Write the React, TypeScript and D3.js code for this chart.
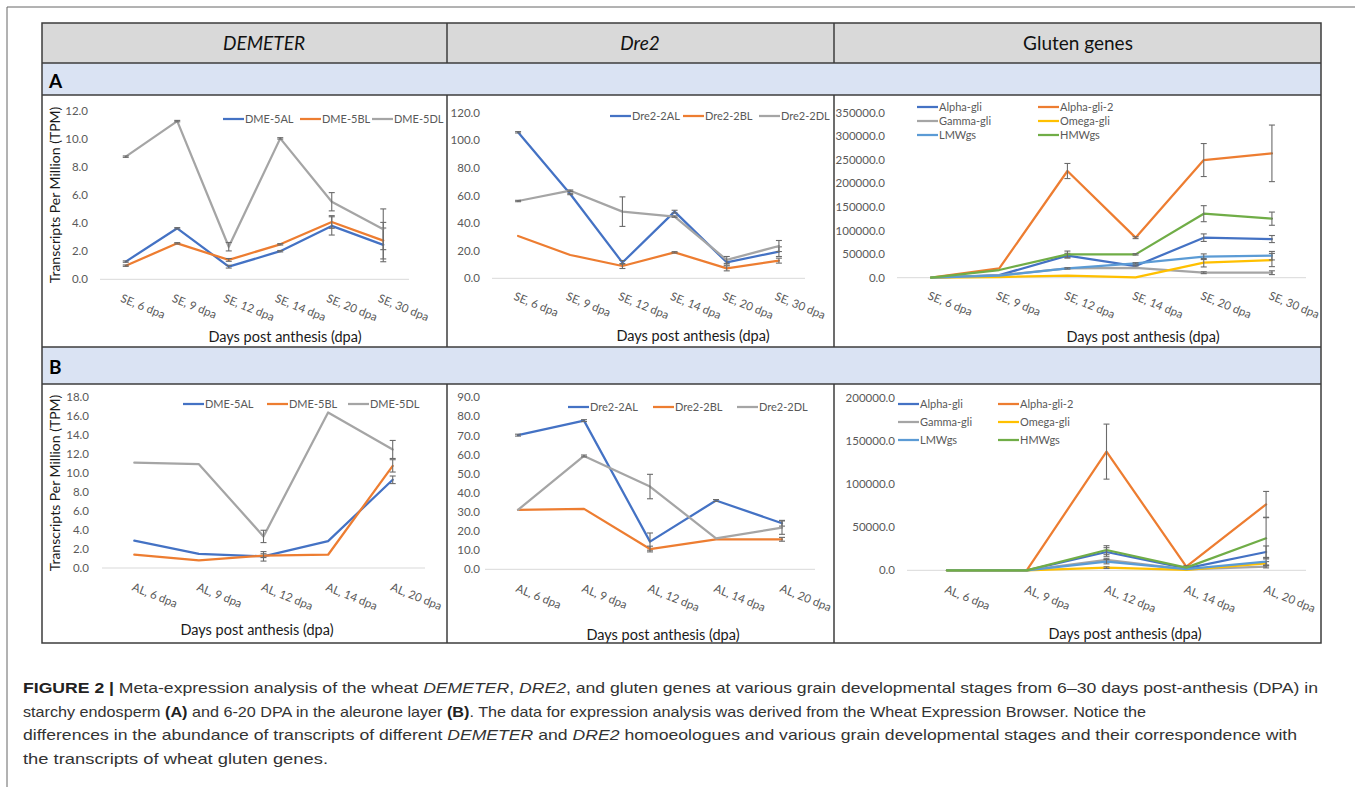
import React from "react";
import * as d3 from "d3";

// ---------- categories ----------
const catsSE = ["SE, 6 dpa", "SE, 9 dpa", "SE, 12 dpa", "SE, 14 dpa", "SE, 20 dpa", "SE, 30 dpa"];
const catsAL = ["AL, 6 dpa", "AL, 9 dpa", "AL, 12 dpa", "AL, 14 dpa", "AL, 20 dpa"];

// ---------- (A) starchy endosperm: DEMETER ----------
const dmeA_5AL = [1.26, 3.63, 0.9, 2.0, 3.8, 2.45];
const dmeA_5BL = [0.97, 2.56, 1.38, 2.49, 4.08, 2.75];
const dmeA_5DL = [8.73, 11.26, 2.32, 10.03, 5.52, 3.56];
const dmeA_5AL_err = [0.05, 0.05, 0.1, 0.05, 0.65, 1.2];
const dmeA_5BL_err = [0.05, 0.05, 0.1, 0.05, 0.45, 1.3];
const dmeA_5DL_err = [0.05, 0.05, 0.3, 0.05, 0.65, 1.45];

// ---------- (A) Dre2 ----------
const dreA_2AL = [105.8, 61.1, 11.4, 48.3, 11.6, 19.3];
const dreA_2BL = [30.7, 16.9, 8.9, 18.8, 7.2, 12.8];
const dreA_2DL = [56.0, 63.5, 48.3, 44.7, 13.3, 23.4];
const dreA_2AL_err = [0.5, 0.5, 1.5, 1, 2, 3.5];
const dreA_2BL_err = [0.3, 0.3, 1.8, 0.5, 1.8, 1.8];
const dreA_2DL_err = [0.5, 0.5, 10.7, 0.5, 2.5, 4];

// ---------- (A) gluten genes ----------
const glA_alpha = [0, 5600, 46700, 24750, 84900, 82000];
const glA_alpha2 = [0, 19800, 226300, 84900, 249600, 263800];
const glA_gamma = [0, 5000, 20000, 21000, 10600, 10600];
const glA_omega = [0, 1400, 4200, 500, 31800, 37500];
const glA_lmw = [0, 4200, 19800, 30400, 44500, 46700];
const glA_hmw = [0, 16300, 49500, 49500, 135800, 125200];
const glA_alpha_err = [0, 500, 5000, 2000, 8000, 7500];
const glA_alpha2_err = [0, 1000, 16000, 2000, 35000, 60000];
const glA_gamma_err = [0, 300, 1000, 1000, 2000, 4000];
const glA_omega_err = [0, 200, 500, 100, 9000, 14000];
const glA_lmw_err = [0, 300, 1500, 1500, 6000, 9000];
const glA_hmw_err = [0, 1000, 7000, 1500, 17000, 14000];

// ---------- (B) aleurone: DEMETER ----------
const dmeB_5AL = [2.88, 1.5, 1.23, 2.84, 9.3];
const dmeB_5BL = [1.4, 0.8, 1.3, 1.4, 10.77];
const dmeB_5DL = [11.1, 10.95, 3.33, 16.4, 12.5];
const dmeB_5AL_err = [0.05, 0.05, 0.5, 0.05, 0.4];
const dmeB_5BL_err = [0.05, 0.05, 0.2, 0.05, 0.65];
const dmeB_5DL_err = [0.05, 0.05, 0.65, 0.05, 0.95];

// ---------- (B) Dre2 ----------
const dreB_2AL = [70.2, 77.8, 14.5, 36.0, 24.1];
const dreB_2BL = [31.1, 31.6, 10.6, 15.7, 15.7];
const dreB_2DL = [31.1, 59.3, 43.3, 16.2, 21.8];
const dreB_2AL_err = [0.5, 0.5, 4.5, 0.5, 1.5];
const dreB_2BL_err = [0.3, 0.3, 1.5, 0.3, 1];
const dreB_2DL_err = [0.3, 0.5, 6.4, 0.3, 3.5];

// ---------- (B) gluten genes ----------
const glB_alpha = [0, 0, 21300, 2300, 21300];
const glB_alpha2 = [0, 0, 138000, 4300, 76700];
const glB_gamma = [0, 0, 12000, 1000, 4300];
const glB_omega = [0, 0, 3100, 400, 8100];
const glB_lmw = [0, 0, 10000, 1500, 10000];
const glB_hmw = [0, 0, 23600, 3100, 37200];
const glB_alpha_err = [0, 0, 5000, 500, 7000];
const glB_alpha2_err = [0, 0, 32000, 1000, 15000];
const glB_gamma_err = [0, 0, 2000, 200, 1500];
const glB_omega_err = [0, 0, 1000, 100, 2000];
const glB_lmw_err = [0, 0, 2500, 300, 5000];
const glB_hmw_err = [0, 0, 5000, 500, 24000];

// ---------- labels ----------
const dmeNames = ["DME-5AL", "DME-5BL", "DME-5DL"];
const dreNames = ["Dre2-2AL", "Dre2-2BL", "Dre2-2DL"];
const glNames = ["Alpha-gli", "Alpha-gli-2", "Gamma-gli", "Omega-gli", "LMWgs", "HMWgs"];
const headers = ["DEMETER", "Dre2", "Gluten genes"];

const COL = {
  blue: "#4472C4",
  orange: "#ED7D31",
  gray: "#A5A5A5",
  yellow: "#FFC000",
  lblue: "#5B9BD5",
  green: "#70AD47",
};
const triColors = [COL.blue, COL.orange, COL.gray];
const glColors = [COL.blue, COL.orange, COL.gray, COL.yellow, COL.lblue, COL.green];

const FONT = "Lato, 'Open Sans', sans-serif";

type Series = { name: string; values: number[]; err: number[]; color: string };
type Cfg = {
  cats: string[];
  series: Series[];
  yMax: number;
  yStep: number;
  plotL: number;
  plotR: number;
  y0: number;
  yTop: number;
  tickX: number;
  xTitle: [number, number];
  yTitle?: [number, number];
  legend: [number, number][];
  lblDx: number;
  lblDy: number;
};

function mk(names: string[], colors: string[], vals: number[][], errs: number[][]): Series[] {
  return names.map((n, i) => ({ name: n, values: vals[i], err: errs[i], color: colors[i] }));
}

function Panel({ cfg }: { cfg: Cfg }) {
  const x = d3.scalePoint<string>().domain(cfg.cats).range([cfg.plotL, cfg.plotR]).padding(0.5);
  const y = d3.scaleLinear().domain([0, cfg.yMax]).range([cfg.y0, cfg.yTop]);
  const ticks = d3.range(0, cfg.yMax + cfg.yStep / 2, cfg.yStep);
  const fmt = d3.format(".1f");
  const line = d3
    .line<number>()
    .x((_, i) => x(cfg.cats[i]) as number)
    .y((d) => y(d));
  return (
    <g>
      <line x1={cfg.plotL} x2={cfg.plotR} y1={y(0)} y2={y(0)} stroke="#d9d9d9" strokeWidth={1} />
      {ticks.map((t) => (
        <text key={t} x={cfg.tickX} y={y(t)} dy="0.35em" textAnchor="end" fontSize={11.5} fill="#595959" fontFamily={FONT}>
          {fmt(t)}
        </text>
      ))}
      {cfg.cats.map((c) => (
        <text
          key={c}
          transform={`translate(${(x(c) as number) + cfg.lblDx},${y(0) + cfg.lblDy}) rotate(22)`}
          fontSize={11.5}
          fill="#595959"
          fontFamily={FONT}
        >
          {c}
        </text>
      ))}
      {cfg.series.map((s) => (
        <g key={s.name}>
          <path d={line(s.values) || ""} fill="none" stroke={s.color} strokeWidth={2.25} strokeLinejoin="round" strokeLinecap="round" />
          {s.values.map((v, i) => {
            const e = s.err[i];
            if (!e) return null;
            const cx = x(cfg.cats[i]) as number;
            const yt = y(v + e);
            const yb = y(Math.max(0, v - e));
            if (Math.abs(yb - yt) < 1.2) return null;
            return (
              <g key={i} stroke="#6b6b6b" strokeWidth={1.1}>
                <line x1={cx} x2={cx} y1={yt} y2={yb} />
                <line x1={cx - 3} x2={cx + 3} y1={yt} y2={yt} />
                <line x1={cx - 3} x2={cx + 3} y1={yb} y2={yb} />
              </g>
            );
          })}
        </g>
      ))}
      {cfg.series.map((s, i) => {
        const [lx, ly] = cfg.legend[i];
        return (
          <g key={"lg" + s.name}>
            <line x1={lx} x2={lx + 21} y1={ly} y2={ly} stroke={s.color} strokeWidth={2.25} />
            <text x={lx + 22} y={ly} dy="0.35em" fontSize={11} fill="#595959" fontFamily={FONT}>
              {s.name}
            </text>
          </g>
        );
      })}
      <text x={cfg.xTitle[0]} y={cfg.xTitle[1]} dy="0.35em" textAnchor="middle" fontSize={14.5} fill="#1a1a1a" fontFamily={FONT}>
        Days post anthesis (dpa)
      </text>
      {cfg.yTitle && (
        <text
          transform={`translate(${cfg.yTitle[0]},${cfg.yTitle[1]}) rotate(-90)`}
          dy="0.35em"
          textAnchor="middle"
          fontSize={14}
          fill="#1a1a1a"
          fontFamily={FONT}
        >
          Transcripts Per Million (TPM)
        </text>
      )}
    </g>
  );
}

const panels: Cfg[] = [
  {
    cats: catsSE,
    series: mk(dmeNames, triColors, [dmeA_5AL, dmeA_5BL, dmeA_5DL], [dmeA_5AL_err, dmeA_5BL_err, dmeA_5DL_err]),
    yMax: 12, yStep: 2, plotL: 100, plotR: 409, y0: 279.3, yTop: 110.7, tickX: 88,
    xTitle: [285, 337], yTitle: [55, 195],
    legend: [[223, 119], [300, 119], [372, 119]],
    lblDx: -6, lblDy: 22,
  },
  {
    cats: catsSE,
    series: mk(dreNames, triColors, [dreA_2AL, dreA_2BL, dreA_2DL], [dreA_2AL_err, dreA_2BL_err, dreA_2DL_err]),
    yMax: 120, yStep: 20, plotL: 492, plotR: 805, y0: 278.3, yTop: 112.7, tickX: 480,
    xTitle: [693, 336],
    legend: [[610, 116], [683, 116], [759, 116]],
    lblDx: -5, lblDy: 21,
  },
  {
    cats: catsSE,
    series: mk(glNames, glColors, [glA_alpha, glA_alpha2, glA_gamma, glA_omega, glA_lmw, glA_hmw],
      [glA_alpha_err, glA_alpha2_err, glA_gamma_err, glA_omega_err, glA_lmw_err, glA_hmw_err]),
    yMax: 350000, yStep: 50000, plotL: 897, plotR: 1306, y0: 277.7, yTop: 112.7, tickX: 885,
    xTitle: [1143, 337],
    legend: [[917, 107], [1038, 107], [917, 121], [1038, 121], [917, 135], [1038, 135]],
    lblDx: -4, lblDy: 21,
  },
  {
    cats: catsAL,
    series: mk(dmeNames, triColors, [dmeB_5AL, dmeB_5BL, dmeB_5DL], [dmeB_5AL_err, dmeB_5BL_err, dmeB_5DL_err]),
    yMax: 18, yStep: 2, plotL: 102, plotR: 425, y0: 568, yTop: 397.3, tickX: 89,
    xTitle: [257, 630], yTitle: [55, 483],
    legend: [[183, 404], [267, 404], [348, 404]],
    lblDx: -3, lblDy: 22,
  },
  {
    cats: catsAL,
    series: mk(dreNames, triColors, [dreB_2AL, dreB_2BL, dreB_2DL], [dreB_2AL_err, dreB_2BL_err, dreB_2DL_err]),
    yMax: 90, yStep: 10, plotL: 485, plotR: 815, y0: 569.3, yTop: 397.3, tickX: 480,
    xTitle: [663, 635],
    legend: [[568, 407], [653, 407], [737, 407]],
    lblDx: -3, lblDy: 22,
  },
  {
    cats: catsAL,
    series: mk(glNames, glColors, [glB_alpha, glB_alpha2, glB_gamma, glB_omega, glB_lmw, glB_hmw],
      [glB_alpha_err, glB_alpha2_err, glB_gamma_err, glB_omega_err, glB_lmw_err, glB_hmw_err]),
    yMax: 200000, yStep: 50000, plotL: 907, plotR: 1306, y0: 570.3, yTop: 398.3, tickX: 895,
    xTitle: [1125, 634],
    legend: [[898, 404], [998, 404], [898, 422], [998, 422], [898, 440], [998, 440]],
    lblDx: -3, lblDy: 22,
  },
];

export default function App() {
  const T = { l: 42, r: 1321, top: 23, hdr: 63, aBot: 95, bTop: 347, bBot: 384, bot: 643 };
  const colX = [447, 834];
  const hdrX = [264, 640, 1078];
  const border = "#3c3c3c";
  const capFont = "'Liberation Sans', Arial, sans-serif";
  return (
    <svg width={1355} height={787} style={{ position: "absolute", left: 0, top: 0 }}>
      <rect x={0} y={0} width={1355} height={787} fill="#fff" />
      {/* page frame */}
      <line x1={7} x2={1355} y1={7} y2={7} stroke="#666" strokeWidth={1} />
      <line x1={7} x2={7} y1={7} y2={787} stroke="#666" strokeWidth={1} />

      {/* table backgrounds */}
      <rect x={T.l} y={T.top} width={T.r - T.l} height={T.hdr - T.top} fill="#D9D9D9" />
      <rect x={T.l} y={T.hdr} width={T.r - T.l} height={T.aBot - T.hdr} fill="#DAE3F3" />
      <rect x={T.l} y={T.bTop} width={T.r - T.l} height={T.bBot - T.bTop} fill="#DAE3F3" />

      {headers.map((h, i) => (
        <text key={h} x={hdrX[i]} y={43} dy="0.35em" textAnchor="middle" fontSize={19} fontStyle={i < 2 ? "italic" : "normal"} fill="#111" fontFamily={FONT}>
          {h}
        </text>
      ))}
      <text x={49} y={88} fontSize={19} fontWeight="bold" fill="#000" fontFamily={FONT}>A</text>
      <text x={49} y={374} fontSize={19} fontWeight="bold" fill="#000" fontFamily={FONT}>B</text>

      {panels.map((p, i) => (
        <Panel key={i} cfg={p} />
      ))}

      {/* table grid */}
      <g stroke={border} strokeWidth={1.5} fill="none">
        <rect x={T.l} y={T.top} width={T.r - T.l} height={T.bot - T.top} />
        {[T.hdr, T.aBot, T.bTop, T.bBot].map((yy) => (
          <line key={yy} x1={T.l} x2={T.r} y1={yy} y2={yy} />
        ))}
        {colX.map((cx) => (
          <g key={cx}>
            <line x1={cx} x2={cx} y1={T.top} y2={T.hdr} />
            <line x1={cx} x2={cx} y1={T.aBot} y2={T.bTop} />
            <line x1={cx} x2={cx} y1={T.bBot} y2={T.bot} />
          </g>
        ))}
      </g>

      {/* caption */}
      <g fontFamily={capFont} fontSize={15} fill="#333">
        <text x={23} y={693} textLength={1295} lengthAdjust="spacingAndGlyphs">
          <tspan fontWeight="bold" fill="#222">FIGURE 2 | </tspan>
          Meta-expression analysis of the wheat <tspan fontStyle="italic">DEMETER</tspan>, <tspan fontStyle="italic">DRE2</tspan>, and gluten genes at various grain developmental stages from 6–30 days post-anthesis (DPA) in
        </text>
        <text x={23} y={717} textLength={1123} lengthAdjust="spacingAndGlyphs">
          starchy endosperm <tspan fontWeight="bold" fill="#222">(A)</tspan> and 6-20 DPA in the aleurone layer <tspan fontWeight="bold" fill="#222">(B)</tspan>. The data for expression analysis was derived from the Wheat Expression Browser. Notice the
        </text>
        <text x={23} y={740} textLength={1274} lengthAdjust="spacingAndGlyphs">
          differences in the abundance of transcripts of different <tspan fontStyle="italic">DEMETER</tspan> and <tspan fontStyle="italic">DRE2</tspan> homoeologues and various grain developmental stages and their correspondence with
        </text>
        <text x={23} y={764} textLength={305} lengthAdjust="spacingAndGlyphs">
          the transcripts of wheat gluten genes.
        </text>
      </g>
    </svg>
  );
}
